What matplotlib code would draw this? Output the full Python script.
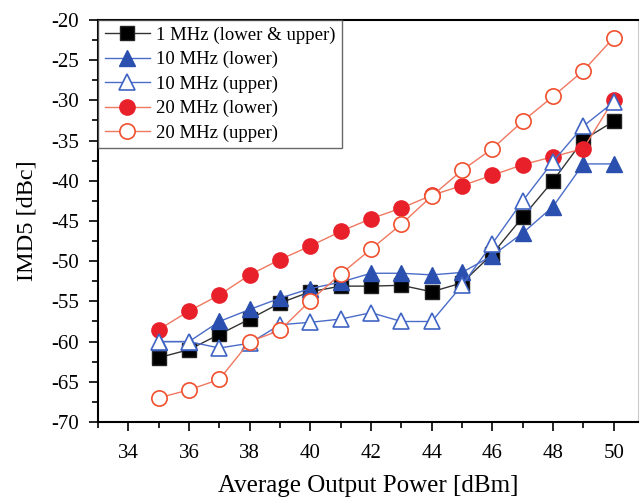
import matplotlib.pyplot as plt
from matplotlib.ticker import MultipleLocator

plt.rcParams['font.family'] = ['Liberation Serif', 'DejaVu Serif']
plt.rcParams['axes.unicode_minus'] = False

power = [35, 36, 37, 38, 39, 40, 41, 42, 43, 44, 45, 46, 47, 48, 49, 50]

mhz1 = [-62.0, -61.0, -59.1, -57.2, -55.2, -53.8, -53.1, -53.1, -53.0, -53.8,
        -52.7, -49.1, -44.5, -40.0, -34.9, -32.6]
mhz10_lower = [-60.0, -60.0, -57.5, -56.0, -54.6, -53.4, -52.6, -51.5, -51.5, -51.7,
               -51.4, -49.3, -46.5, -43.2, -37.9, -37.9]
mhz10_upper = [-60.0, -60.0, -60.8, -60.2, -57.9, -57.6, -57.2, -56.4, -57.5, -57.5,
               -53.0, -47.8, -42.5, -37.6, -33.2, -30.2]
mhz20_lower = [-58.5, -56.2, -54.2, -51.7, -49.8, -48.1, -46.3, -44.7, -43.4, -41.8,
               -40.6, -39.3, -38.0, -37.0, -36.0, -29.9]
mhz20_upper = [-67.0, -66.0, -64.7, -60.0, -58.6, -54.9, -51.6, -48.5, -45.4, -41.9,
               -38.7, -36.0, -32.6, -29.5, -26.3, -22.2]

fig = plt.figure(figsize=(6.42, 5.0), dpi=100)
ax = fig.add_axes([98 / 642, 78 / 500, 540 / 642, 402 / 500])

lw = 1.0
ax.plot(power, mhz1, color='#333333', lw=lw, marker='s', ms=10,
        mfc='black', mec='#222222', label='1 MHz (lower & upper)', zorder=3)
ax.plot(power, mhz10_lower, color='#4a6cc8', lw=lw, marker='^', ms=11,
        mfc='#2a4fae', mec='#2a4fae', label='10 MHz (lower)', zorder=3)
ax.plot(power, mhz10_upper, color='#4a6cc8', lw=lw, marker='^', ms=11,
        mfc='white', mec='#3f64c4', mew=1.2, label='10 MHz (upper)', zorder=4)
ax.plot(power, mhz20_lower, color='#f07860', lw=lw, marker='o', ms=11,
        mfc='#e8202a', mec='#e8202a', label='20 MHz (lower)', zorder=3)
ax.plot(power, mhz20_upper, color='#f07860', lw=lw, marker='o', ms=11,
        mfc='white', mec='#f0502e', mew=1.2, label='20 MHz (upper)', zorder=4)

ax.set_xlim(33, 50.8)
ax.set_ylim(-70, -20)
ax.xaxis.set_major_locator(MultipleLocator(2))
ax.xaxis.set_minor_locator(MultipleLocator(1))
ax.yaxis.set_major_locator(MultipleLocator(5))
ax.yaxis.set_minor_locator(MultipleLocator(2.5))
ax.tick_params(which='both', direction='out', width=1.2, labelsize=15)
ax.tick_params(which='major', length=6.5)
ax.tick_params(which='minor', length=4)
ax.tick_params(axis='x', which='major', pad=9)
ax.tick_params(axis='y', which='major', pad=7)

for s in ['left', 'bottom', 'top']:
    ax.spines[s].set_linewidth(1.5)
ax.spines['right'].set_color('#cccccc')

ax.set_xlabel('Average Output Power [dBm]', fontsize=18, labelpad=9)
ax.set_ylabel('IMD5 [dBc]', fontsize=17.5, labelpad=10)

leg = ax.legend(loc='upper left', borderaxespad=0, fontsize=13.5, fancybox=False,
                edgecolor='#444444', handlelength=2.4, labelspacing=0.38,
                borderpad=0.35, handletextpad=0.35)
leg.get_frame().set_linewidth(1.0)

fig.savefig('out.png', dpi=100)
